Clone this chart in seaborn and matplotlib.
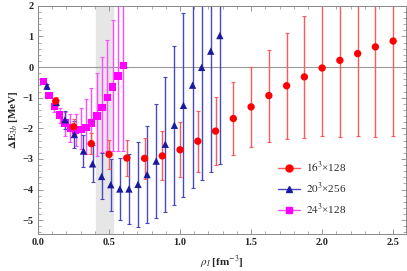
import numpy as np
import pandas as pd
import matplotlib
matplotlib.use("Agg")
import matplotlib.pyplot as plt
from matplotlib.lines import Line2D
from matplotlib.ticker import MultipleLocator
import seaborn as sns

# 16^3 x 128
rho_16 = [0.125, 0.25, 0.375, 0.5, 0.625, 0.75, 0.875, 1.0, 1.125, 1.25,
          1.375, 1.5, 1.625, 1.75, 1.875, 2.0, 2.125, 2.25, 2.375, 2.5]
dE_16 = [-1.11, -1.95, -2.5, -2.85, -2.97, -2.98, -2.9, -2.7, -2.42, -2.09,
         -1.68, -1.3, -0.93, -0.61, -0.32, -0.03, 0.22, 0.44, 0.66, 0.85]
err_16 = [0.12, 0.25, 0.35, 0.47, 0.6, 0.68, 0.8, 0.9, 1.0, 1.1,
          1.18, 1.3, 1.5, 1.73, 2.0, 2.23, 2.5, 2.7, 2.93, 3.1]

# 20^3 x 256
rho_20 = [0.063, 0.128, 0.19, 0.256, 0.32, 0.384, 0.448, 0.512, 0.576, 0.64,
          0.704, 0.768, 0.832, 0.896, 0.96, 1.024, 1.088, 1.152, 1.216, 1.28]
dE_20 = [-0.62, -1.15, -1.72, -2.2, -2.74, -3.16, -3.57, -3.84, -3.98, -3.98,
         -3.83, -3.51, -3.07, -2.52, -1.9, -1.25, -0.59, -0.01, 0.52, 1.03]
err_20 = [0.08, 0.12, 0.3, 0.45, 0.52, 0.6, 0.75, 0.85, 1.0, 1.15,
          1.38, 1.58, 1.85, 2.2, 2.6, 3.0, 3.35, 3.67, 3.95, 4.2]

# 24^3 x 128
rho_24 = [0.04, 0.077, 0.115, 0.152, 0.19, 0.227, 0.265, 0.302, 0.339, 0.376,
          0.414, 0.451, 0.488, 0.525, 0.563, 0.6]
dE_24 = [-0.48, -0.92, -1.28, -1.57, -1.83, -1.99, -2.07, -2.04, -1.97, -1.83,
         -1.6, -1.31, -1.0, -0.65, -0.29, 0.06]
err_24_lo = [0.06, 0.1, 0.18, 0.25, 0.43, 0.47, 0.5, 0.65, 0.88, 1.0,
             1.3, 1.47, 1.75, 2.1, 2.45, 2.8]
err_24_hi = [0.06, 0.1, 0.15, 0.22, 0.35, 0.45, 0.55, 0.72, 0.94, 1.16,
             1.4, 1.63, 1.9, 2.2, 2.6, 3.0]

labels = ["$16^3$×128", "$20^3$×256", "$24^3$×128"]
colors = ["#ff0000", "#1a1aa0", "#ff00ff"]
bar_colors = ["#ff5a5a", "#4848c0", "#ff4cff"]
markers = ["o", "^", "s"]

sns.set_style("ticks")
plt.rcParams["font.family"] = ["Liberation Serif", "DejaVu Serif"]
plt.rcParams["mathtext.fontset"] = "stix"

df = pd.concat([
    pd.DataFrame({"rho": rho_24, "dE": dE_24, "set": labels[2]}),
    pd.DataFrame({"rho": rho_20, "dE": dE_20, "set": labels[1]}),
    pd.DataFrame({"rho": rho_16, "dE": dE_16, "set": labels[0]}),
])

fig = plt.figure(figsize=(4.07, 2.71), dpi=100)
ax = fig.add_axes([0.0934, 0.1365, 0.904, 0.842])

ax.axvspan(0.41, 0.525, color="#e6e6e6", zorder=0)
ax.axhline(0, color="#999999", lw=0.8, zorder=1)

# error bars
ax.errorbar(rho_24, dE_24, yerr=[err_24_lo, err_24_hi], fmt="none",
            ecolor=bar_colors[2], elinewidth=1.0, capsize=1.5, capthick=0.8, zorder=2)
ax.errorbar(rho_20, dE_20, yerr=err_20, fmt="none",
            ecolor=bar_colors[1], elinewidth=1.0, capsize=1.5, capthick=0.8, zorder=2)
ax.errorbar(rho_16, dE_16, yerr=err_16, fmt="none",
            ecolor=bar_colors[0], elinewidth=1.0, capsize=1.5, capthick=0.8, zorder=2)

sns.scatterplot(data=df, x="rho", y="dE", hue="set", style="set",
                hue_order=labels, style_order=labels,
                palette=colors, markers=markers, s=28, linewidth=0,
                legend=False, ax=ax, zorder=3)

ax.set_xlim(0, 2.59)
ax.set_ylim(-5.45, 2)
ax.xaxis.set_major_locator(MultipleLocator(0.5))
ax.xaxis.set_minor_locator(MultipleLocator(0.1))
ax.yaxis.set_major_locator(MultipleLocator(1))
ax.yaxis.set_minor_locator(MultipleLocator(0.2))
ax.set_xticks([0, 0.5, 1.0, 1.5, 2.0, 2.5])
ax.set_xticklabels(["0.0", "0.5", "1.0", "1.5", "2.0", "2.5"])
ax.set_yticks([-5, -4, -3, -2, -1, 0, 1, 2])
ax.set_yticklabels(["−5", "−4", "−3", "−2", "−1", "0", "1", "2"])
ax.tick_params(which="both", direction="in", top=True, right=True,
               color="#888888", labelsize=7.5, pad=3)
ax.tick_params(which="major", length=3.5, width=0.6)
ax.tick_params(which="minor", length=2, width=0.5)
for lab in ax.get_xticklabels() + ax.get_yticklabels():
    lab.set_fontweight("bold")
for sp in ax.spines.values():
    sp.set_color("#888888")
    sp.set_linewidth(0.7)

ax.set_xlabel(r"$\rho_I$ [fm$^{-3}$]", fontsize=8, fontweight="bold", labelpad=5)
ax.set_ylabel(r"$\mathbf{\Delta E}_{3b}$ [MeV]", fontsize=8, fontweight="bold", labelpad=2)

handles = [Line2D([0], [0], color=bar_colors[i], lw=1.0, marker=markers[i],
                  markerfacecolor=colors[i], markeredgecolor=colors[i], markersize=5)
           for i in range(3)]
ax.legend(handles, labels, loc="upper left", bbox_to_anchor=(0.63, 0.36),
          frameon=False, fontsize=8, handlelength=2.0, handletextpad=0.6,
          labelspacing=0.55, borderpad=0.2)

fig.savefig("out.png", dpi=100)
